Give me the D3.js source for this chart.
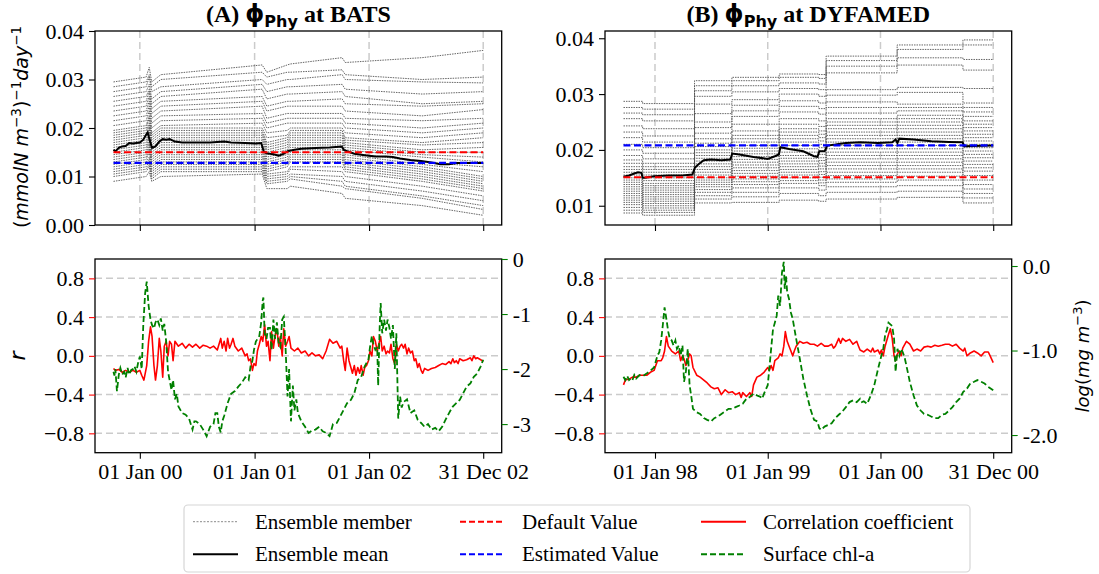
<!DOCTYPE html>
<html><head><meta charset="utf-8">
<script src="https://cdn.jsdelivr.net/npm/d3@7"></script>
<style>
body{margin:0;background:#fff}
svg{display:block}
text{font-family:"Liberation Serif","Times New Roman",serif;fill:#000}
</style>
</head><body>
<svg id="fig" width="1099" height="574"></svg>
<script>
// ===================== data =====================
// Day offsets count from each station's origin date.
const batsOrigin = "2000-01-01";
const dyfOrigin = "1998-01-01";

const batsTicks = ["2000-01-01", "2001-01-01", "2002-01-01", "2002-12-31"];
const batsTickLabels = ["01 Jan 00", "01 Jan 01", "01 Jan 02", "31 Dec 02"];
const dyfTicks = ["1998-01-01", "1999-01-01", "2000-01-01", "2000-12-31"];
const dyfTickLabels = ["01 Jan 98", "01 Jan 99", "01 Jan 00", "31 Dec 00"];

const batsPhiTicks = [0, 0.01, 0.02, 0.03, 0.04];
const dyfPhiTicks = [0.01, 0.02, 0.03, 0.04];
const corrTicks = [-0.8, -0.4, 0, 0.4, 0.8];
const batsChlTicks = [0, -1, -2, -3];
const batsChlTickLabels = ["0", "-1", "-2", "-3"];
const dyfChlTicks = [0, -1, -2];
const dyfChlTickLabels = ["0.0", "-1.0", "-2.0"];

const batsDefault = 0.0150, batsEstimated = 0.0128;
const dyfDefault = 0.0151, dyfEstimated = 0.0208;

// Ensemble members at BATS, values in 1e-3 (mmolN m^-3)^-1 day^-1 at the knot days
const batsKnotDays = [-84, 20, 30, 38, 67, 390, 405, 470, 480, 645, 655, 900, 1095];
const batsMembers = [
  [29.5, 30.5, 32.5, 29.5, 31.0, 33.0, 31.5, 33.0, 33.2, 34.5, 33.5, 34.5, 36.0],
  [28.5, 29.5, 31.0, 28.5, 30.0, 31.5, 30.5, 31.5, 31.5, 32.0, 31.0, 30.0, 30.5],
  [27.5, 28.5, 30.5, 27.5, 28.5, 30.0, 29.0, 30.0, 30.0, 31.0, 30.0, 29.5, 29.3],
  [26.5, 27.5, 29.0, 26.0, 27.5, 29.0, 27.5, 28.5, 28.5, 29.0, 28.0, 27.0, 27.5],
  [25.5, 26.5, 28.0, 25.0, 26.5, 28.0, 26.0, 27.0, 27.0, 27.5, 26.5, 25.0, 25.5],
  [24.5, 25.5, 27.5, 24.0, 25.5, 26.5, 24.5, 25.5, 25.5, 26.0, 25.0, 24.5, 25.0],
  [23.5, 24.5, 26.5, 23.0, 24.5, 25.5, 23.5, 24.5, 24.5, 24.5, 23.5, 22.5, 23.8],
  [22.5, 23.5, 25.5, 22.0, 23.5, 24.5, 22.0, 23.0, 23.0, 23.0, 22.0, 21.5, 22.0],
  [21.5, 22.5, 24.5, 21.0, 22.5, 23.0, 21.0, 22.0, 22.0, 22.0, 21.0, 20.0, 21.0],
  [20.5, 21.5, 23.5, 20.0, 21.5, 22.0, 20.0, 21.0, 21.0, 21.0, 20.0, 19.0, 20.0],
  [19.5, 20.5, 22.5, 19.0, 20.5, 21.0, 19.0, 19.5, 20.0, 20.0, 19.0, 18.0, 19.0],
  [19.0, 20.0, 22.0, 18.5, 20.0, 20.0, 18.0, 18.5, 19.5, 19.5, 18.0, 17.0, 18.0],
  [18.5, 19.5, 21.0, 18.0, 19.5, 19.5, 17.0, 18.0, 19.0, 19.0, 17.5, 16.5, 17.0],
  [18.0, 19.0, 20.5, 17.5, 19.0, 19.0, 16.5, 17.5, 18.5, 18.5, 17.0, 15.5, 16.0],
  [17.5, 18.5, 20.0, 17.0, 18.5, 18.5, 16.0, 17.0, 18.0, 18.0, 16.5, 15.0, 15.0],
  [17.0, 18.0, 19.5, 16.5, 18.0, 18.0, 15.5, 16.5, 17.5, 17.5, 16.0, 14.5, 14.0],
  [16.5, 17.5, 19.0, 16.0, 17.5, 17.5, 15.0, 16.0, 17.0, 17.0, 15.5, 14.0, 13.0],
  [16.0, 17.0, 18.5, 15.5, 17.0, 17.0, 14.5, 15.5, 16.5, 16.5, 15.0, 13.0, 12.0],
  [15.5, 16.5, 18.0, 15.0, 16.5, 16.5, 14.0, 15.0, 16.0, 16.0, 14.5, 12.5, 11.0],
  [15.0, 16.0, 17.5, 14.5, 16.0, 16.0, 13.5, 14.5, 15.5, 15.5, 14.0, 12.0, 10.0],
  [14.5, 15.5, 17.0, 14.0, 15.5, 15.5, 13.0, 14.0, 15.0, 15.0, 13.5, 11.5, 9.5],
  [14.0, 15.0, 16.5, 13.5, 15.0, 15.0, 12.5, 13.5, 14.5, 14.5, 13.0, 11.0, 9.0],
  [13.5, 14.5, 16.0, 13.0, 14.5, 14.5, 12.0, 13.0, 14.0, 14.0, 12.5, 10.5, 8.5],
  [13.0, 14.0, 15.5, 12.5, 14.0, 14.0, 11.5, 12.5, 13.5, 13.5, 12.0, 10.0, 8.0],
  [12.5, 13.5, 15.0, 12.0, 13.5, 13.5, 11.0, 12.0, 13.0, 13.0, 11.5, 9.5, 7.5],
  [12.0, 13.0, 14.0, 11.5, 13.0, 13.0, 10.5, 11.0, 12.0, 12.0, 11.0, 9.0, 7.0],
  [11.5, 12.5, 13.5, 11.0, 12.5, 12.5, 10.0, 10.5, 11.5, 11.0, 10.0, 8.0, 6.0],
  [11.0, 12.0, 13.0, 10.5, 12.0, 12.0, 9.5, 10.0, 10.5, 10.0, 9.0, 7.0, 5.0],
  [10.5, 11.5, 12.5, 10.0, 11.5, 11.5, 9.0, 9.5, 10.0, 9.0, 8.0, 6.0, 4.0],
  [10.0, 11.0, 12.0, 9.5, 11.0, 11.0, 8.5, 9.0, 9.5, 8.0, 7.5, 5.5, 3.2],
  [9.0, 10.0, 11.0, 9.0, 10.0, 10.5, 7.5, 7.5, 8.0, 6.5, 5.5, 4.0, 2.0]
];

// Ensemble members at DYFAMED, one value (1e-3 units) per assimilation window
const dyfWindowStarts = [-102, -40, 128, 249, 402, 530, 554, 784, 997];
const dyfEnd = 1095;
const dyfMembers = [
  [28.7, 28.3, 32.4, 33.0, 33.6, 33.5, 36.8, 38.8, 39.7],
  [27.6, 27.3, 31.5, 32.4, 33.0, 32.8, 36.0, 38.0, 38.8],
  [26.6, 26.3, 30.6, 31.5, 32.0, 31.8, 35.0, 36.5, 36.2],
  [25.6, 25.2, 29.6, 30.4, 31.0, 30.8, 33.8, 35.2, 34.3],
  [24.3, 23.8, 28.2, 29.0, 30.0, 29.6, 30.8, 31.2, 31.0],
  [23.2, 22.5, 26.5, 28.0, 28.8, 28.4, 29.8, 30.3, 28.4],
  [22.2, 21.4, 25.0, 27.0, 27.8, 27.4, 28.6, 28.2, 27.6],
  [21.0, 20.4, 24.0, 26.0, 26.8, 26.4, 27.6, 27.6, 26.8],
  [20.0, 19.4, 23.0, 24.6, 25.6, 25.2, 26.6, 27.0, 26.0],
  [19.0, 18.4, 22.0, 23.4, 24.6, 24.2, 25.6, 26.2, 25.2],
  [18.2, 17.6, 21.2, 22.6, 23.8, 23.4, 25.0, 25.6, 24.6],
  [17.6, 17.0, 20.6, 22.0, 23.2, 22.8, 24.4, 25.0, 24.0],
  [17.0, 16.5, 20.0, 21.4, 22.6, 22.2, 23.8, 24.4, 23.4],
  [16.5, 16.0, 19.5, 20.8, 22.0, 21.6, 23.2, 23.8, 22.8],
  [16.0, 15.5, 19.0, 20.3, 21.4, 21.0, 22.6, 23.2, 22.2],
  [15.5, 15.0, 18.5, 19.8, 20.8, 20.4, 22.0, 22.6, 21.6],
  [15.0, 14.5, 18.0, 19.3, 20.2, 19.8, 21.4, 22.0, 21.0],
  [14.6, 14.0, 17.5, 18.8, 19.6, 19.2, 20.8, 21.4, 20.4],
  [14.2, 13.6, 17.0, 18.3, 19.0, 18.6, 20.2, 20.8, 19.8],
  [13.8, 13.2, 16.5, 17.8, 18.5, 18.1, 19.6, 20.2, 19.2],
  [13.4, 12.8, 16.0, 17.3, 18.0, 17.6, 19.0, 19.6, 18.6],
  [13.0, 12.4, 15.5, 16.8, 17.5, 17.1, 18.4, 19.0, 18.0],
  [12.6, 12.0, 15.0, 16.3, 17.0, 16.6, 17.8, 18.4, 17.4],
  [12.2, 11.6, 14.6, 15.8, 16.5, 16.1, 17.2, 17.8, 16.8],
  [11.8, 11.2, 14.2, 15.3, 16.0, 15.6, 16.6, 17.2, 16.2],
  [11.4, 10.8, 13.8, 14.8, 15.5, 15.1, 16.0, 16.6, 15.4],
  [11.0, 10.4, 13.4, 14.3, 15.0, 14.6, 15.4, 16.0, 14.6],
  [10.6, 10.0, 12.9, 13.8, 14.5, 14.1, 14.8, 15.3, 13.8],
  [10.2, 9.6, 12.4, 13.2, 14.0, 13.6, 14.2, 14.6, 13.0],
  [9.7, 9.2, 11.8, 12.4, 13.2, 12.8, 13.4, 13.6, 12.2],
  [9.2, 8.8, 11.2, 11.6, 12.2, 11.8, 12.4, 12.6, 11.4],
  [8.7, 8.3, 10.5, 10.6, 11.0, 10.8, 11.2, 11.5, 10.5]
];

// Ensemble mean [day, phi]
const batsMean = [
  [-84, 0.0155], [-78, 0.01517], [-67, 0.0159], [-56, 0.0162], [-45, 0.0163], [-34, 0.0169],
  [-22, 0.0168], [-11, 0.0169], [0, 0.0170], [11, 0.0176], [20, 0.0186], [25, 0.0191],
  [31, 0.0176], [39, 0.0159], [50, 0.0162], [62, 0.0172], [73, 0.0177], [84, 0.0176],
  [95, 0.0177], [112, 0.0172], [135, 0.0170], [168, 0.0170], [224, 0.0170], [269, 0.0172],
  [291, 0.0170], [336, 0.0169], [370, 0.0168], [387, 0.0169], [395, 0.0152], [404, 0.0148],
  [426, 0.0146], [443, 0.0143], [460, 0.0147], [471, 0.0152], [493, 0.0155], [515, 0.0157],
  [560, 0.0159], [605, 0.0160], [644, 0.0162], [650, 0.0155], [661, 0.0152], [684, 0.0147],
  [717, 0.0144], [751, 0.0141], [785, 0.0141], [807, 0.0140], [830, 0.0137], [863, 0.0134],
  [897, 0.0132], [930, 0.0129], [958, 0.01255], [986, 0.01255], [1009, 0.01276],
  [1042, 0.01276], [1095, 0.01276]
];
const dyfMean = [
  [-102, 0.01518], [-84, 0.01542], [-67, 0.01577], [-55, 0.01601], [-44, 0.0159], [-40, 0.0150],
  [-32, 0.0150], [-3, 0.0153], [43, 0.01542], [89, 0.01542], [121, 0.0156], [129, 0.01679],
  [140, 0.01738], [158, 0.01815], [181, 0.01827], [215, 0.01815], [244, 0.01827], [250, 0.01935],
  [273, 0.01917], [319, 0.01875], [365, 0.01839], [388, 0.01887], [401, 0.01917], [406, 0.02048],
  [434, 0.02018], [480, 0.01976], [515, 0.01887], [526, 0.01875], [532, 0.01976], [549, 0.01976],
  [558, 0.02077], [584, 0.02095], [618, 0.02125], [664, 0.02137], [722, 0.02125], [768, 0.02137],
  [779, 0.02185], [785, 0.02125], [791, 0.02202], [837, 0.02185], [895, 0.02155], [952, 0.02143],
  [996, 0.02137], [1001, 0.02065], [1095, 0.02077]
];

// Correlation coefficient r [day, r]
const batsCorr = [
  [-84, -0.13], [-78, -0.15], [-67, -0.14], [-56, -0.17], [-45, -0.15], [-34, -0.17], [-22, -0.15],
  [-11, -0.17], [0, -0.15], [6, -0.2], [13, -0.25], [22, -0.1], [28, 0.15], [34, 0.30], [39, 0.2],
  [45, -0.1], [50, -0.25], [56, -0.1], [62, 0.18], [67, 0.05], [73, -0.22], [78, 0.1], [84, 0.15],
  [90, 0.0], [95, 0.15], [101, 0.12], [106, -0.05], [112, 0.15], [123, 0.1], [135, 0.13],
  [146, 0.08], [157, 0.12], [168, 0.09], [179, 0.12], [191, 0.08], [202, 0.11], [213, 0.10],
  [224, 0.08], [235, 0.10], [247, 0.06], [258, 0.18], [263, 0.08], [269, 0.15], [275, 0.05],
  [280, 0.18], [286, 0.08], [291, 0.12], [297, 0.18], [303, 0.1], [314, 0.05], [325, 0.08],
  [336, 0.0], [342, 0.02], [347, -0.05], [353, -0.03], [359, -0.15], [364, -0.08], [370, -0.1],
  [375, 0.05], [381, 0.12], [387, 0.2], [392, 0.15], [398, 0.32], [404, 0.1], [409, 0.15],
  [415, -0.05], [420, 0.25], [426, 0.08], [431, 0.2], [437, 0.28], [443, 0.1], [448, 0.2],
  [454, 0.0], [459, 0.28], [465, 0.1], [471, 0.15], [476, 0.2], [482, 0.08], [493, 0.05],
  [504, 0.08], [515, 0.03], [527, 0.05], [538, 0.0], [549, 0.03], [560, 0.0], [572, 0.01],
  [583, -0.03], [594, 0.05], [605, 0.17], [616, 0.13], [628, 0.15], [639, 0.08], [644, 0.1],
  [650, -0.05], [655, -0.15], [661, 0.08], [667, -0.05], [673, -0.12], [678, -0.18], [684, -0.1],
  [689, -0.2], [695, -0.12], [701, -0.18], [706, -0.1], [712, -0.2], [717, -0.12], [723, -0.1],
  [729, -0.05], [734, 0.05], [740, 0.0], [745, 0.2], [751, 0.15], [757, 0.05], [762, 0.12],
  [768, 0.2], [773, 0.05], [779, 0.1], [785, 0.02], [790, 0.05], [796, 0.03], [801, 0.12],
  [807, -0.03], [813, -0.08], [818, 0.12], [824, 0.05], [830, 0.1], [835, 0.12], [841, 0.08],
  [846, 0.12], [852, 0.02], [857, 0.08], [863, 0.03], [869, 0.05], [875, -0.05], [880, -0.03],
  [886, -0.12], [891, -0.08], [897, -0.15], [902, -0.18], [908, -0.13], [919, -0.15], [930, -0.13],
  [942, -0.12], [953, -0.1], [964, -0.08], [975, -0.09], [986, -0.06], [992, -0.08], [998, -0.03],
  [1003, -0.07], [1009, -0.05], [1015, -0.08], [1020, -0.03], [1031, -0.05], [1042, -0.04],
  [1054, -0.02], [1059, -0.05], [1065, 0.0], [1071, -0.03], [1076, -0.02], [1087, -0.04], [1095, -0.06]
];
const dyfCorr = [
  [-102, -0.3], [-96, -0.25], [-84, -0.24], [-73, -0.22], [-61, -0.22], [-50, -0.2], [-38, -0.2],
  [-26, -0.2], [-15, -0.17], [-3, -0.15], [8, -0.05], [20, -0.05], [25, -0.02], [31, 0.05],
  [37, 0.2], [43, 0.1], [54, 0.05], [66, 0.02], [77, 0.05], [83, -0.05], [89, 0.0], [94, -0.03],
  [100, -0.1], [106, -0.05], [112, 0.02], [117, 0.0], [123, -0.12], [135, -0.2], [146, -0.22],
  [158, -0.25], [169, -0.28], [181, -0.32], [192, -0.34], [204, -0.33], [215, -0.4], [227, -0.35],
  [238, -0.38], [250, -0.37], [261, -0.4], [273, -0.38], [279, -0.43], [284, -0.38], [296, -0.42],
  [307, -0.38], [313, -0.42], [319, -0.3], [330, -0.22], [342, -0.2], [353, -0.17], [365, -0.12],
  [370, -0.15], [376, -0.1], [382, -0.15], [388, -0.05], [399, -0.02], [405, 0.02], [411, 0.0],
  [417, 0.1], [422, 0.25], [428, 0.15], [434, 0.1], [440, 0.05], [446, 0.0], [451, 0.05],
  [457, 0.1], [469, 0.15], [480, 0.13], [492, 0.14], [503, 0.12], [515, 0.12], [526, 0.1],
  [538, 0.13], [549, 0.1], [561, 0.1], [572, 0.12], [578, 0.08], [584, 0.1], [595, 0.18],
  [601, 0.13], [607, 0.18], [618, 0.15], [630, 0.17], [641, 0.12], [653, 0.15], [659, 0.1],
  [664, 0.06], [676, 0.04], [687, 0.07], [699, 0.04], [705, 0.08], [710, 0.04], [722, 0.06],
  [728, 0.02], [733, 0.06], [739, 0.0], [745, 0.1], [756, 0.22], [762, 0.28], [768, 0.18],
  [774, 0.0], [779, -0.05], [785, 0.02], [791, 0.05], [797, 0.0], [802, 0.08], [814, 0.15],
  [825, 0.12], [837, 0.05], [848, 0.07], [860, 0.05], [871, 0.09], [883, 0.1], [894, 0.09],
  [906, 0.11], [917, 0.1], [929, 0.11], [940, 0.12], [952, 0.12], [963, 0.1], [975, 0.12],
  [986, 0.08], [998, 0.05], [1003, 0.08], [1010, 0.0], [1021, 0.03], [1033, 0.05], [1044, 0.03],
  [1056, 0.0], [1067, 0.04], [1079, 0.04], [1085, 0.0], [1095, -0.07]
];

// Surface chl-a, log10(mg m^-3) [day, value]
const batsChl = [
  [-84, -2.05], [-81, -2.12], [-78, -2.0], [-73, -2.4], [-67, -2.1], [-62, -1.98], [-56, -2.1],
  [-50, -2.05], [-45, -2.15], [-39, -1.98], [-34, -2.1], [-28, -2.02], [-22, -2.0], [-17, -1.95],
  [-11, -2.05], [-6, -1.9], [0, -1.77], [6, -2.0], [11, -1.2], [17, -0.62], [22, -0.41], [28, -0.85],
  [34, -1.1], [39, -1.2], [45, -1.26], [50, -1.15], [56, -1.1], [62, -1.2], [67, -1.08], [73, -1.3],
  [78, -1.18], [84, -1.5], [90, -2.05], [95, -2.2], [101, -2.38], [106, -2.2], [112, -2.55],
  [118, -2.45], [123, -2.68], [135, -2.8], [146, -2.83], [157, -2.9], [168, -3.1], [174, -2.95],
  [179, -2.95], [191, -3.0], [202, -3.1], [213, -3.22], [224, -3.05], [235, -3.0], [241, -2.8],
  [247, -2.8], [252, -3.05], [258, -3.15], [263, -2.95], [269, -2.85], [280, -2.62], [291, -2.45],
  [303, -2.4], [314, -2.32], [325, -2.25], [336, -2.15], [347, -2.2], [353, -1.95], [359, -1.85],
  [364, -1.65], [370, -1.5], [381, -1.4], [387, -1.15], [392, -0.75], [394, -0.7], [398, -1.35],
  [404, -1.45], [409, -1.25], [415, -1.25], [420, -1.65], [426, -1.1], [431, -1.45], [437, -1.15],
  [443, -1.55], [448, -1.6], [454, -1.1], [459, -1.05], [465, -1.65], [471, -2.5], [476, -2.0],
  [482, -2.95], [488, -2.3], [493, -2.75], [499, -2.55], [504, -2.8], [515, -2.95], [527, -3.05],
  [538, -3.16], [549, -3.12], [560, -3.1], [572, -3.05], [583, -3.13], [594, -3.16], [605, -3.22],
  [616, -3.0], [628, -2.98], [639, -2.86], [650, -2.74], [661, -2.62], [673, -2.56], [684, -2.44],
  [695, -2.2], [706, -2.14], [717, -1.95], [729, -1.83], [734, -1.6], [740, -1.4], [745, -1.55],
  [751, -1.65], [757, -1.6], [760, -2.3], [765, -1.2], [768, -0.8], [773, -1.35], [779, -1.1],
  [785, -1.3], [790, -1.1], [796, -1.25], [801, -1.45], [807, -1.2], [813, -2.0], [818, -1.35],
  [824, -2.9], [830, -2.5], [835, -2.7], [841, -2.6], [852, -2.55], [863, -2.8], [875, -2.75],
  [886, -2.92], [897, -2.98], [908, -3.05], [919, -3.0], [930, -3.1], [942, -3.07], [953, -3.13],
  [964, -3.05], [975, -2.92], [986, -2.8], [998, -2.68], [1009, -2.62], [1020, -2.56], [1031, -2.44],
  [1042, -2.32], [1054, -2.26], [1065, -2.14], [1076, -2.08], [1087, -1.95], [1095, -1.83]
];
const dyfChl = [
  [-102, -1.31], [-96, -1.35], [-90, -1.30], [-84, -1.35], [-78, -1.33], [-73, -1.35], [-67, -1.29],
  [-61, -1.33], [-50, -1.29], [-38, -1.30], [-26, -1.27], [-15, -1.24], [-3, -1.2], [8, -1.06],
  [14, -1.02], [20, -0.88], [25, -0.71], [31, -0.49], [37, -0.63], [43, -0.78], [48, -0.86],
  [54, -0.88], [60, -0.94], [66, -0.88], [71, -0.98], [77, -0.94], [83, -1.06], [89, -0.94],
  [94, -1.37], [100, -1.25], [106, -0.98], [112, -1.41], [117, -1.53], [123, -1.69], [135, -1.73],
  [146, -1.75], [158, -1.8], [169, -1.82], [181, -1.84], [192, -1.8], [204, -1.78], [215, -1.75],
  [227, -1.72], [238, -1.69], [250, -1.69], [261, -1.67], [273, -1.65], [284, -1.63], [296, -1.57],
  [307, -1.55], [319, -1.51], [330, -1.53], [342, -1.55], [347, -1.57], [353, -1.51], [365, -1.41],
  [370, -1.22], [376, -0.98], [382, -0.75], [388, -0.67], [394, -0.59], [399, -0.35], [405, -0.47],
  [411, -0.08], [417, 0.05], [420, -0.27], [424, -0.12], [428, -0.31], [434, -0.39], [440, -0.55],
  [446, -0.63], [457, -0.86], [469, -1.1], [480, -1.33], [492, -1.53], [503, -1.69], [515, -1.82],
  [526, -1.84], [532, -1.92], [538, -1.94], [549, -1.9], [561, -1.88], [572, -1.86], [584, -1.8],
  [595, -1.76], [607, -1.72], [618, -1.67], [630, -1.61], [641, -1.59], [653, -1.61], [664, -1.57],
  [670, -1.61], [676, -1.6], [687, -1.63], [699, -1.53], [710, -1.41], [722, -1.22], [733, -1.06],
  [739, -0.98], [745, -0.82], [751, -0.75], [756, -0.67], [762, -0.69], [768, -0.71], [774, -0.86],
  [779, -1.25], [785, -0.98], [791, -1.06], [797, -0.98], [802, -1.02], [808, -1.08], [814, -1.18],
  [825, -1.37], [837, -1.53], [848, -1.65], [860, -1.71], [871, -1.75], [883, -1.76], [894, -1.78],
  [906, -1.8], [917, -1.8], [929, -1.76], [940, -1.75], [952, -1.71], [963, -1.67], [975, -1.61],
  [986, -1.57], [998, -1.49], [1010, -1.45], [1021, -1.39], [1033, -1.37], [1044, -1.35],
  [1056, -1.37], [1067, -1.39], [1079, -1.43], [1095, -1.47]
];

// ===================== drawing =====================
const svg = d3.select("#fig");
const TOP = [31, 225], BOT = [259, 452.7];
const TICK_FONT = 22;
const gridColor = "#cbcbcb";

function utc(s) { return new Date(s + "T00:00:00Z"); }
function dayDate(origin, d) { return new Date(utc(origin).getTime() + d * 864e5); }

function styleAxis(g, color) {
  g.select(".domain").remove();
  g.selectAll(".tick line").attr("stroke", color).attr("stroke-width", 1.1);
  g.selectAll(".tick text").attr("fill", color)
    .style("font-family", "'Liberation Serif', serif").style("font-size", TICK_FONT + "px");
}

function frame(L, R, T, B) {
  svg.append("rect").attr("x", L).attr("y", T).attr("width", R - L).attr("height", B - T)
    .attr("fill", "none").attr("stroke", "#000").attr("stroke-width", 1.3);
}

function panel(cfg) {
  const [L, R] = cfg.frame;
  const days = cfg.mean.map(d => d[0]);
  const first = d3.min(days), last = d3.max(days);
  const pad = (last - first) * 0.05;
  const x = d3.scaleUtc()
    .domain([dayDate(cfg.origin, first - pad), dayDate(cfg.origin, last + pad)])
    .range([L, R]);
  const tickDates = cfg.ticks.map(utc);

  // ---------- upper axes: parameter ensemble ----------
  const yT = d3.scaleLinear().domain(cfg.phiDomain).range([TOP[1], TOP[0]]);
  const clipId = "clipT" + cfg.key;
  svg.append("clipPath").attr("id", clipId).append("rect")
    .attr("x", L).attr("y", TOP[0]).attr("width", R - L).attr("height", TOP[1] - TOP[0]);
  const gT = svg.append("g").attr("clip-path", `url(#${clipId})`);

  gT.selectAll("line.vgrid").data(tickDates).join("line").attr("class", "vgrid")
    .attr("x1", d => x(d)).attr("x2", d => x(d)).attr("y1", TOP[0]).attr("y2", TOP[1])
    .attr("stroke", gridColor).attr("stroke-width", 1.5).attr("stroke-dasharray", "7,4");

  const memberLine = d3.line().x(d => x(dayDate(cfg.origin, d[0]))).y(d => yT(d[1] / 1000))
    .curve(cfg.memberCurve);
  gT.selectAll("path.member").data(cfg.members).join("path").attr("class", "member")
    .attr("d", memberLine).attr("fill", "none").attr("stroke", "#555")
    .attr("stroke-width", 0.9).attr("stroke-dasharray", "1.5,1");

  const meanLine = d3.line().x(d => x(dayDate(cfg.origin, d[0]))).y(d => yT(d[1]));
  gT.append("path").datum(cfg.mean).attr("d", meanLine).attr("fill", "none")
    .attr("stroke", "#000").attr("stroke-width", 2);

  [[cfg.defaultValue, "#ff0000"], [cfg.estimatedValue, "#0000ff"]].forEach(([v, c]) => {
    gT.append("line").attr("x1", x(dayDate(cfg.origin, first))).attr("x2", x(dayDate(cfg.origin, last)))
      .attr("y1", yT(v)).attr("y2", yT(v)).attr("stroke", c).attr("stroke-width", 2.2)
      .attr("stroke-dasharray", "7,3.5");
  });

  frame(L, R, TOP[0], TOP[1]);
  const axT = svg.append("g").attr("transform", `translate(${L},0)`)
    .call(d3.axisLeft(yT).tickValues(cfg.phiTicks).tickFormat(d3.format(".2f")).tickSize(6).tickPadding(5));
  styleAxis(axT, "#000");
  const axTx = svg.append("g").attr("transform", `translate(0,${TOP[1]})`)
    .call(d3.axisBottom(x).tickValues(tickDates).tickFormat("").tickSize(6));
  styleAxis(axTx, "#000");

  // title
  const t = svg.append("text").attr("x", (L + R) / 2).attr("y", 22).attr("text-anchor", "middle")
    .style("font-size", "24px").style("font-weight", "bold");
  t.append("tspan").text(cfg.letter + " ");
  t.append("tspan").style("font-family", "'DejaVu Sans', sans-serif").text("ϕ");
  t.append("tspan").style("font-family", "'DejaVu Sans', sans-serif").style("font-size", "16px")
    .attr("dy", 5).text("Phy");
  t.append("tspan").attr("dy", -5).text(" at " + cfg.station);

  // ---------- lower axes: correlation and chl-a ----------
  const yR = d3.scaleLinear().domain([-1, 1]).range([BOT[1], BOT[0]]);
  const yC = d3.scaleLinear().domain(cfg.chlDomain).range([BOT[1], BOT[0]]);
  const clipB = "clipB" + cfg.key;
  svg.append("clipPath").attr("id", clipB).append("rect")
    .attr("x", L).attr("y", BOT[0]).attr("width", R - L).attr("height", BOT[1] - BOT[0]);
  const gB = svg.append("g").attr("clip-path", `url(#${clipB})`);

  gB.selectAll("line.hgrid").data(corrTicks).join("line").attr("class", "hgrid")
    .attr("x1", L).attr("x2", R).attr("y1", d => yR(d)).attr("y2", d => yR(d))
    .attr("stroke", gridColor).attr("stroke-width", 1.5).attr("stroke-dasharray", "7,4");

  const rLine = d3.line().x(d => x(dayDate(cfg.origin, d[0]))).y(d => yR(d[1]));
  gB.append("path").datum(cfg.corr).attr("d", rLine).attr("fill", "none")
    .attr("stroke", "#ff0000").attr("stroke-width", 1.6).attr("stroke-linejoin", "round");

  const cLine = d3.line().x(d => x(dayDate(cfg.origin, d[0]))).y(d => yC(d[1]));
  gB.append("path").datum(cfg.chl).attr("d", cLine).attr("fill", "none")
    .attr("stroke", "#008000").attr("stroke-width", 1.8).attr("stroke-dasharray", "6,3");

  frame(L, R, BOT[0], BOT[1]);
  const axL = svg.append("g").attr("transform", `translate(${L},0)`)
    .call(d3.axisLeft(yR).tickValues(corrTicks).tickFormat(d3.format(".1f")).tickSize(6).tickPadding(5));
  styleAxis(axL, "#ff0000");
  const axR = svg.append("g").attr("transform", `translate(${R},0)`)
    .call(d3.axisRight(yC).tickValues(cfg.chlTicks).tickFormat((d, i) => cfg.chlTickLabels[i])
      .tickSize(6).tickPadding(5));
  styleAxis(axR, "#008000");
  const axBx = svg.append("g").attr("transform", `translate(0,${BOT[1]})`)
    .call(d3.axisBottom(x).tickValues(tickDates).tickFormat((d, i) => cfg.tickLabels[i])
      .tickSize(6).tickPadding(5));
  styleAxis(axBx, "#000");
}

// step-wise member paths for the windowed ensemble
const dyfMemberPts = dyfMembers.map(m =>
  dyfWindowStarts.map((d, i) => [d, m[i]]).concat([[dyfEnd, m[m.length - 1]]]));
const batsMemberPts = batsMembers.map(m => batsKnotDays.map((d, i) => [d, m[i]]));

panel({
  key: "A", letter: "(A)", station: "BATS", frame: [95, 501.7], origin: batsOrigin,
  ticks: batsTicks, tickLabels: batsTickLabels,
  phiDomain: [0, 0.04], phiTicks: batsPhiTicks,
  members: batsMemberPts, memberCurve: d3.curveLinear, mean: batsMean,
  defaultValue: batsDefault, estimatedValue: batsEstimated,
  corr: batsCorr, chl: batsChl, chlDomain: [-3.52, 0],
  chlTicks: batsChlTicks, chlTickLabels: batsChlTickLabels
});
panel({
  key: "B", letter: "(B)", station: "DYFAMED", frame: [605, 1011.7], origin: dyfOrigin,
  ticks: dyfTicks, tickLabels: dyfTickLabels,
  phiDomain: [0.00655, 0.0413], phiTicks: dyfPhiTicks,
  members: dyfMemberPts, memberCurve: d3.curveStepAfter, mean: dyfMean,
  defaultValue: dyfDefault, estimatedValue: dyfEstimated,
  corr: dyfCorr, chl: dyfChl, chlDomain: [-2.209, 0.083],
  chlTicks: dyfChlTicks, chlTickLabels: dyfChlTickLabels
});

// ---------- axis titles ----------
const sans = "'DejaVu Sans', sans-serif";
const yl = svg.append("text").attr("transform", "translate(28,127) rotate(-90)")
  .attr("text-anchor", "middle").style("font-family", sans).style("font-size", "19px");
yl.append("tspan").text("(");
yl.append("tspan").style("font-style", "italic").text("mmolN m");
yl.append("tspan").style("font-size", "13.5px").attr("dy", -7).text("−3");
yl.append("tspan").attr("dy", 7).text(")");
yl.append("tspan").style("font-size", "13.5px").attr("dy", -7).text("−1");
yl.append("tspan").style("font-style", "italic").attr("dy", 7).text("day");
yl.append("tspan").style("font-size", "13.5px").attr("dy", -7).text("−1");

svg.append("text").attr("transform", "translate(25,356) rotate(-90)").attr("text-anchor", "middle")
  .style("font-family", sans).style("font-style", "italic").style("font-size", "22px")
  .attr("fill", "#ff0000").text("r");

const rl = svg.append("text").attr("transform", "translate(1089,356) rotate(-90)")
  .attr("text-anchor", "middle").style("font-family", sans).style("font-size", "18px")
  .attr("fill", "#008000");
rl.append("tspan").style("font-style", "italic").text("log");
rl.append("tspan").text("(");
rl.append("tspan").style("font-style", "italic").text("mg m");
rl.append("tspan").style("font-size", "13px").attr("dy", -7).text("−3");
rl.append("tspan").attr("dy", 7).text(")");

// ---------- legend ----------
const legendItems = [
  { label: "Ensemble member", color: "#7d7d7d", width: 0.9, dash: "2,1.5" },
  { label: "Ensemble mean", color: "#000", width: 2, dash: null },
  { label: "Default Value", color: "#ff0000", width: 2, dash: "6,3" },
  { label: "Estimated Value", color: "#0000ff", width: 2, dash: "6,3" },
  { label: "Correlation coefficient", color: "#ff0000", width: 2, dash: null },
  { label: "Surface chl-a", color: "#008000", width: 2, dash: "6,3" }
];
const legCols = [193, 460, 701];
const legRows = [521.7, 554.3];
svg.append("rect").attr("x", 184).attr("y", 505).attr("width", 786).attr("height", 67)
  .attr("rx", 4).attr("fill", "#fff").attr("stroke", "#d6d6d6").attr("stroke-width", 1.2);
const lg = svg.append("g").selectAll("g").data(legendItems).join("g")
  .attr("transform", (d, i) => `translate(${legCols[Math.floor(i / 2)]},${legRows[i % 2]})`);
lg.append("line").attr("x1", 0).attr("x2", 45).attr("y1", 0).attr("y2", 0)
  .attr("stroke", d => d.color).attr("stroke-width", d => d.width)
  .attr("stroke-dasharray", d => d.dash);
lg.append("text").attr("x", 62).attr("y", 7).style("font-size", "21px").text(d => d.label);
</script>
</body></html>
